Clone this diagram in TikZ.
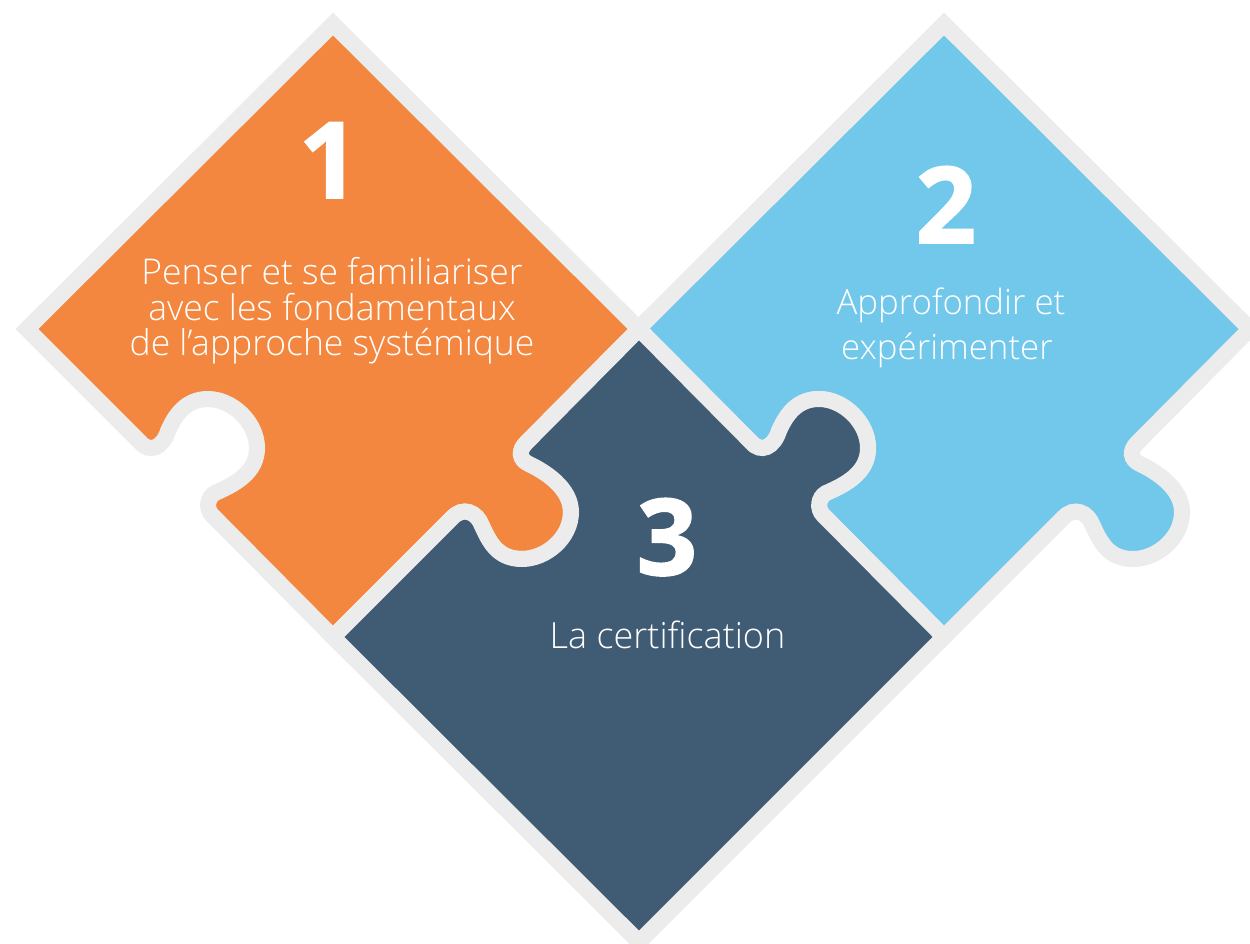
\documentclass[tikz,border=0pt]{standalone}
\usepackage{fontspec}
\setmainfont{Open Sans Light}
\newfontfamily\numfont[BoldFeatures={FakeBold=1.5}]{Open Sans}
\definecolor{pieceorange}{HTML}{F3873F}
\definecolor{pieceblue}{HTML}{72C8EA}
\definecolor{piecedark}{HTML}{405B74}
\definecolor{seam}{HTML}{ECECEC}
\tikzset{
  piece/.style={draw=seam,line width=16pt,miter limit=10},
  numlabel/.style={text=white,font=\numfont\bfseries\fontsize{106}{106}\selectfont,anchor=base,inner sep=0pt},
  textlabel/.style={text=white,align=center,inner sep=0pt},
}
\def\taboforange{
  -- (526,443)
  .. controls (518.5,450.5) and (519,459.5) .. (529,464)
  .. controls (545,471.5) and (571,488) .. (571,512)
  .. controls (571,538) and (546,559) .. (522,559)
  .. controls (497,559) and (489,541) .. (482,526)
  .. controls (477,512) and (463,506) .. (452,518)
  -- (333,637)}
\def\puzzlepiece{
  (333,24) -- (639,329) \taboforange -- (212,515)
  .. controls (206,509) and (207,497.5) .. (215,493)
  .. controls (236,484) and (257,472) .. (257,448)
  .. controls (257,422) and (232,399) .. (208,399)
  .. controls (186,399) and (175,415) .. (168,431)
  .. controls (163,447) and (150,454) .. (140,442)
  -- (27,329) -- cycle}
\begin{document}
\begin{tikzpicture}[x=1pt,y=-1pt]
\useasboundingbox (0,0) rectangle (1250,944);
\clip (0,0) rectangle (1250,944);
\fill[white] (0,0) rectangle (1250,944);
\path[piece,fill=pieceblue,xshift=611pt] \puzzlepiece;
\path[piece,fill=pieceorange] \puzzlepiece;
\path[piece,fill=piecedark]
  (639,329) \taboforange -- (639,942) -- (944,637) -- (823,515)
  .. controls (817,509) and (818,497.5) .. (826,493)
  .. controls (847,484) and (868,472) .. (868,448)
  .. controls (868,422) and (843,399) .. (819,399)
  .. controls (797,399) and (786,415) .. (779,431)
  .. controls (774,447) and (761,454) .. (751,442)
  -- cycle;
\node[numlabel] (n1) at (329,198) {1};
\node[numlabel] (n2) at (946,243) {2};
\node[numlabel] (n3) at (667,575) {3};
\node[textlabel,font=\fontsize{35.5}{35.5}\selectfont] (t1) at (332,311) {Penser et se familiariser\\avec les fondamentaux\\de l’approche systémique};
\node[textlabel,font=\fontsize{34.8}{45}\selectfont] (t2) at (951,328) {Approfondir et\\expérimenter\hspace*{8pt}};
\node[textlabel,font=\fontsize{36}{36}\selectfont] (t3) at (667.5,635) {La certification};
\end{tikzpicture}
\end{document}
